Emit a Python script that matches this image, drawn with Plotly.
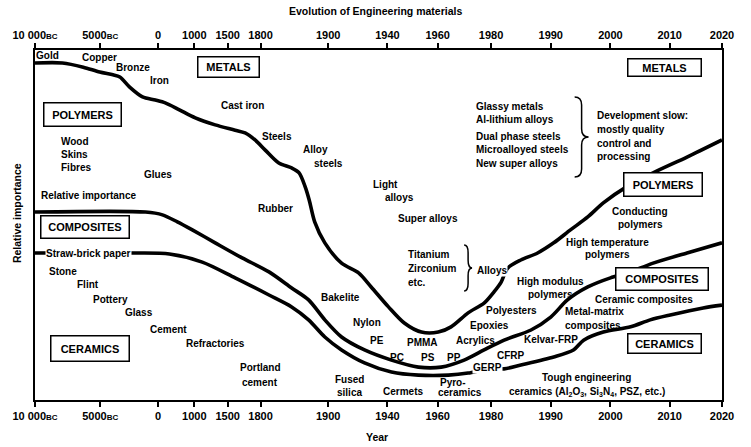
import numpy as np
import plotly.graph_objects as go

# ---------------- data ----------------
TICK_YEARS = [-10000, -5000, 0, 1000, 1500, 1800, 1900, 1940, 1960, 1980, 1990, 2000, 2010, 2020]
TICK_LABELS = ["10 000<span style='font-size:8px'>BC</span>", "5000<span style='font-size:8px'>BC</span>",
               "0", "1000", "1500", "1800", "1900", "1940", "1960", "1980", "1990", "2000", "2010", "2020"]

# upper boundary (metals / polymers)
METALS_YEAR = [-10000, -7900, -6300, -5040, -3900, -3300, -2450, -1340, -220, 200, 590, 1015, 1313, 1568,
               1659, 1750, 1807, 1827, 1846, 1857, 1866, 1872, 1880, 1895, 1909, 1920.5, 1929, 1940.4,
               1946.7, 1953.5, 1960.2, 1965, 1971.4, 1977.4, 1980.5, 1981.7, 1982.8, 1985, 1987.8, 1990.5,
               1993.3, 1996.2, 1998.8, 2002.9, 2007.2, 2013.3, 2020]
METALS_VAL = [96.3, 96.3, 95.1, 93.7, 92.9, 92.3, 89.4, 86.6, 85.7, 84.9, 82.9, 80.6, 78.6, 77.1,
              76.3, 74.3, 71.4, 67.7, 66.3, 64.9, 60.9, 57.1, 50.9, 44.9, 39.1, 36.3, 32.3, 26.6,
              22.0, 19.4, 19.4, 20.9, 24.9, 27.7, 30.9, 33.7, 37.7, 40.0, 42.0, 44.9,
              48.6, 52.3, 56.3, 61.1, 64.9, 69.4, 74.3]

# polymers / composites boundary
POLY_YEAR = [-10000, -1080, 123, 534, 945, 1313, 1632, 1812.5, 1846, 1871, 1895, 1909, 1924.5, 1941.6,
             1952.3, 1961.3, 1969.9, 1977.4, 1982.2, 1986.7, 1990, 1992.8, 1996.2, 2000, 2002.9, 2007.2,
             2013.3, 2020]
POLY_VAL = [53.7, 53.7, 52.9, 50.9, 48.6, 44.9, 40.6, 36.6, 32.0, 28.6, 22.9, 18.0, 14.3, 11.4,
            9.4, 9.4, 11.4, 14.3, 17.1, 20.0, 23.7, 28.6, 32.3, 34.9, 36.3, 39.1,
            42.0, 44.9]

# composites / ceramics boundary
COMP_YEAR = [-10000, -1940, 315, 1119, 1568, 1812.5, 1846, 1871, 1895, 1909, 1924.5, 1941.6, 1952.3,
             1964, 1971.4, 1978.9, 1982.2, 1985, 1990.5, 1993.8, 1995.5, 1998.8, 2003.4, 2006.7, 2010.1,
             2016.4, 2020]
COMP_VAL = [42.0, 42.0, 41.7, 39.4, 34.9, 30.0, 26.6, 22.9, 18.0, 14.3, 10.6, 8.0, 7.1,
            7.1, 7.7, 8.9, 8.9, 10.0, 12.3, 14.3, 17.1, 19.4, 20.9, 22.9, 24.3,
            26.3, 27.1]

# ---------------- layout / scale ----------------
W, H = 751, 447
L, R, T, B = 32, 29, 50, 47
TICK_POS = [32, 97.5, 155.5, 192, 225.5, 258.5, 326.5, 386, 436.5, 490, 550, 610, 669.5, 722]


def to_axis(years):
    return np.interp(years, TICK_YEARS, TICK_POS)


def fx(px):
    return (px - L) / (W - L - R)


def fy(py):
    return (H - B - py) / (H - T - B)


FONT = "Liberation Sans"
fig = go.Figure()

for yrs, vals in [(METALS_YEAR, METALS_VAL), (POLY_YEAR, POLY_VAL), (COMP_YEAR, COMP_VAL)]:
    fig.add_trace(go.Scatter(x=to_axis(yrs), y=vals, mode="lines",
                             line=dict(color="black", width=3.6, shape="spline", smoothing=0.8),
                             hoverinfo="skip", showlegend=False))

fig.add_trace(go.Scatter(x=[TICK_POS[0], TICK_POS[-1]], y=[0, 0], xaxis="x2", mode="markers",
                         marker=dict(opacity=0), hoverinfo="skip", showlegend=False))

axis_common = dict(range=[TICK_POS[0], TICK_POS[-1]], tickmode="array", tickvals=TICK_POS,
                   ticktext=TICK_LABELS, ticks="outside", ticklen=5, tickwidth=1.5, tickcolor="black",
                   showline=True, linewidth=2, linecolor="black", showgrid=False, zeroline=False,
                   tickfont=dict(family=FONT, size=11, color="black", weight="bold"))

annotations = []


def txt(text, px, py, anchor="center", size=10, bg=None):
    a = dict(text=text, x=fx(px), y=fy(py), xref="paper", yref="paper", showarrow=False,
             xanchor=anchor, yanchor="middle", align=anchor if anchor != "center" else "center",
             font=dict(family=FONT, size=size, color="black", weight="bold"))
    if bg:
        a.update(bgcolor=bg, borderpad=0)
    annotations.append(a)


def box(text, px, py, w, h):
    annotations.append(dict(text=text, x=fx(px), y=fy(py), xref="paper", yref="paper", showarrow=False,
                            xanchor="center", yanchor="middle", width=w - 3, height=h - 3,
                            bgcolor="white", bordercolor="black", borderwidth=1.5, borderpad=0,
                            font=dict(family=FONT, size=11, color="black", weight="bold")))


# boxes
box("METALS", 226, 67, 63, 22)
box("POLYMERS", 80, 114, 79, 25)
box("COMPOSITES", 82, 227, 90, 24)
box("CERAMICS", 87, 348, 80, 27)
box("METALS", 664, 67, 75, 19)
box("POLYMERS", 663, 184, 80, 25)
box("COMPOSITES", 662, 279, 94, 24)
box("CERAMICS", 664, 343, 75, 21)

# labels
for t, x, y in [("Gold", 45, 56), ("Copper", 97, 57), ("Bronze", 130, 68), ("Iron", 157, 81),
                ("Cast iron", 240, 105), ("Glues", 156, 174), ("Relative importance", 86, 195),
                ("Steels", 275, 136), ("Alloy", 314, 149), ("steels", 327, 163), ("Rubber", 274, 208),
                ("Light", 384, 184), ("alloys", 398, 197), ("Super alloys", 427, 218),
                ("Conducting", 640, 211), ("polymers", 640, 224), ("High temperature", 607, 243),
                ("polymers", 607, 255), ("Ceramic composites", 644, 299), ("High modulus", 550, 281),
                ("polymers", 550, 294), ("Polyesters", 511, 310), ("Epoxies", 488, 325),
                ("Acrylics", 474, 340), ("Kelvar-FRP", 550, 339), ("CFRP", 510, 355),
                ("Tough engineering", 586, 377),
                ("ceramics (Al<sub>2</sub>O<sub>3</sub>, Si<sub>3</sub>N<sub>4</sub>, PSZ, etc.)", 586, 392),
                ("Cermets", 402, 391), ("PMMA", 421, 342), ("PC", 396, 357), ("PS", 427, 357),
                ("PP", 453, 357), ("PE", 375, 340), ("Nylon", 365, 322), ("Bakelite", 339, 297),
                ("Fused", 348, 379), ("silica", 348, 392), ("Portland", 258, 367), ("cement", 258, 382),
                ("Refractories", 213, 343), ("Cement", 166, 329), ("Glass", 136, 312),
                ("Pottery", 108, 299), ("Flint", 85, 284), ("Stone", 60, 271)]:
    txt(t, x, y)

for t, y in [("Wood", 141), ("Skins", 154), ("Fibres", 167)]:
    txt(t, 56, y, anchor="left")
for t, y in [("Glassy metals", 106), ("Al-lithium alloys", 120), ("Dual phase steels", 136),
             ("Microalloyed steels", 149), ("New super alloys", 163)]:
    txt(t, 473, y, anchor="left")
for t, y in [("Development slow:", 115), ("mostly quality", 129), ("control and", 143), ("processing", 156)]:
    txt(t, 594, y, anchor="left")
for t, y in [("Titanium", 255), ("Zirconium", 268), ("etc.", 282)]:
    txt(t, 405, y, anchor="left")
for t, y in [("Metal-matrix", 311), ("composites", 325)]:
    txt(t, 562, y, anchor="left")
txt("Pyro-", 437, 382, anchor="left")
txt("ceramics", 435, 392, anchor="left")
txt("Straw-brick paper", 86, 253, bg="white")
txt("GERP", 486, 367, bg="white")
txt("Alloys", 491, 270, bg="white")

# titles
txt("Evolution of Engineering materials", 374, 11, size=10.5)
txt("Year", 375, 437, size=10.5)
annotations.append(dict(text="Relative importance", x=fx(14), y=fy(213), xref="paper", yref="paper",
                        showarrow=False, textangle=-90, xanchor="center", yanchor="middle",
                        font=dict(family=FONT, size=10.5, color="black", weight="bold")))


# braces
def brace(x0, y0, y1, w):
    xm = x0 + w / 2
    ym = (y0 + y1) / 2
    r = min(8, (y1 - y0) / 6)
    pts = [("M", [(x0, y0)]), ("Q", [(xm, y0), (xm, y0 + r)]), ("L", [(xm, ym - r)]),
           ("Q", [(xm, ym), (x0 + w, ym)]), ("Q", [(xm, ym), (xm, ym + r)]), ("L", [(xm, y1 - r)]),
           ("Q", [(xm, y1), (x0, y1)])]
    path = " ".join(c + " " + " ".join(f"{fx(a):.5f},{fy(b):.5f}" for a, b in p) for c, p in pts)
    return dict(type="path", path=path, xref="paper", yref="paper", line=dict(color="black", width=1.5))


shapes = [brace(574, 97, 177, 14), brace(463, 245, 291, 8)]

fig.update_layout(
    width=W, height=H, margin=dict(l=L, r=R, t=T, b=B),
    paper_bgcolor="white", plot_bgcolor="white",
    xaxis=dict(**axis_common, side="bottom"),
    xaxis2=dict(**axis_common, side="top", overlaying="x", anchor="y"),
    yaxis=dict(range=[0, 100], showline=True, mirror=True, linewidth=2, linecolor="black",
               showticklabels=False, ticks="", showgrid=False, zeroline=False),
    annotations=annotations, shapes=shapes, showlegend=False,
)

fig.write_html("out.html", config={"displayModeBar": False},
               post_script="document.body.style.margin='0';document.body.style.padding='0';")
